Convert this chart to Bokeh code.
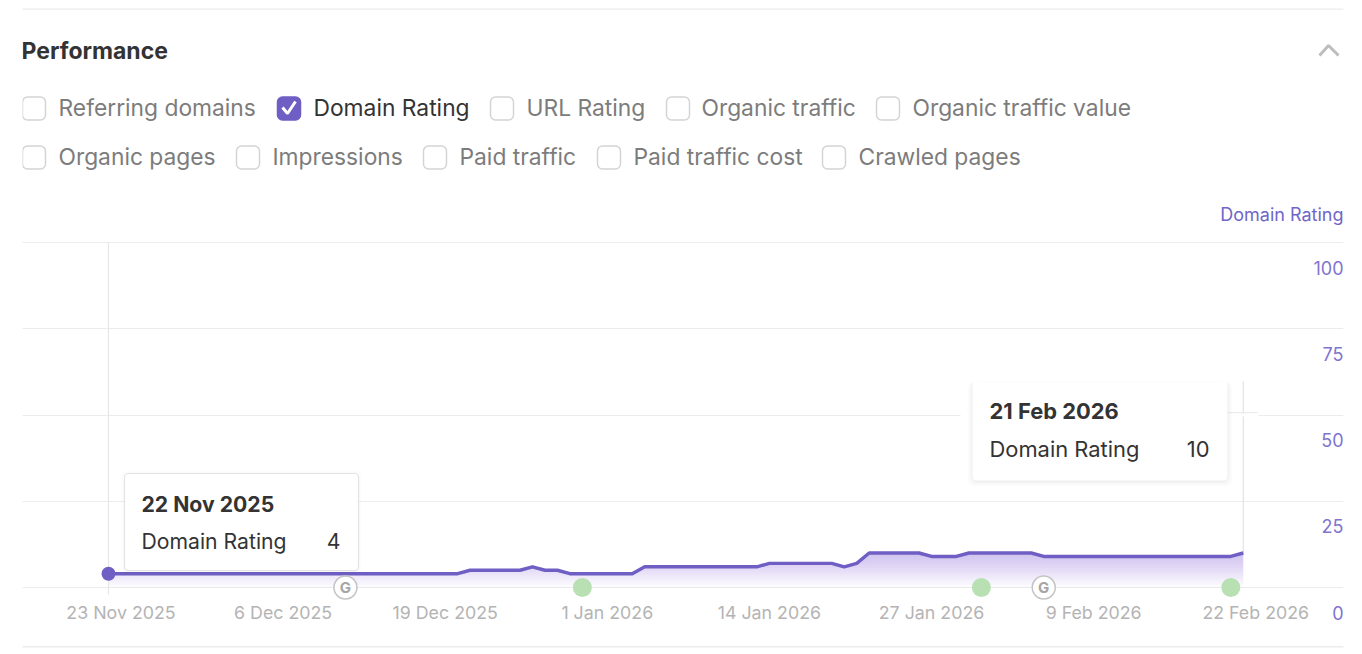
from bokeh.plotting import figure
from bokeh.core.properties import value
from bokeh.models import BoxAnnotation, FixedTicker, Grid, Label, LinearAxis, DatetimeAxis, Range1d
from bokeh.embed import file_html
from bokeh.resources import INLINE
import pandas as pd

# daily Domain Rating, 22 Nov 2025 -> 21 Feb 2026
values = [4, 4, 4, 4, 4, 4, 4, 4, 4, 4, 4, 4, 4, 4, 4, 4, 4, 4, 4, 4, 4, 4, 4, 4, 4, 4, 4, 4, 4,
          5, 5, 5, 5, 5, 6, 5, 5, 4, 4, 4, 4, 4, 4,
          6, 6, 6, 6, 6, 6, 6, 6, 6, 6, 7, 7, 7, 7, 7, 7, 6, 7,
          10, 10, 10, 10, 10, 9, 9, 9, 10, 10, 10, 10, 10, 10,
          9, 9, 9, 9, 9, 9, 9, 9, 9, 9, 9, 9, 9, 9, 9, 9, 10]
dates = pd.date_range("2025-11-22", periods=len(values))

tick_labels = ["23 Nov 2025", "6 Dec 2025", "19 Dec 2025", "1 Jan 2026", "14 Jan 2026",
               "27 Jan 2026", "9 Feb 2026", "22 Feb 2026"]
y_ticks = [0, 25, 50, 75, 100]
green_dates = ["2025-12-30", "2026-01-31", "2026-02-20"]
google_dates = ["2025-12-11", "2026-02-05"]
row1 = [(22, 59, "Referring domains"), (277, 314, "Domain Rating"), (490, 527, "URL Rating"),
        (666, 702, "Organic traffic"), (876, 913, "Organic traffic value")]
row2 = [(22, 59, "Organic pages"), (236, 273, "Impressions"), (423, 460, "Paid traffic"),
        (597, 634, "Paid traffic cost"), (822, 859, "Crawled pages")]

PURPLE = "#6f5fc4"
GRID = "#ececec"
FONT = "Inter"
W, H = 1362, 654
DAY = 86400000
PX_DAY = 12.47
PX_VAL = 3.45
T0 = dates[0].timestamp() * 1000


def fx(px):
    return T0 + (px - 108) / PX_DAY * DAY


def fy(px):
    return (587 - px) / PX_VAL


def ms(d):
    return pd.Timestamp(d).timestamp() * 1000


p = figure(width=W, height=H, output_backend="svg", toolbar_location=None,
           x_axis_type="datetime", x_axis_location=None, y_axis_location=None,
           x_range=Range1d(fx(22), fx(1343)), y_range=Range1d(fy(H), fy(0)),
           min_border_left=22, min_border_right=W - 1343, min_border_top=0, min_border_bottom=0)
p.outline_line_color = None
p.center = []

# y labels sit about 25px under their gridlines, so they get a shifted range
shift = 25 / PX_VAL
p.extra_y_ranges = {"labels": Range1d(fy(H) + shift, fy(0) + shift)}
yax = LinearAxis(y_range_name="labels", ticker=FixedTicker(ticks=y_ticks), fixed_location=fx(1343))
yax.axis_line_color = None
yax.major_tick_line_color = None
yax.minor_tick_line_color = None
yax.major_label_standoff = -6
yax.major_label_text_color = "#7f74d0"
yax.major_label_text_font = FONT
yax.major_label_text_font_size = "18px"
p.add_layout(yax, "left")

tick_ms = [ms(pd.to_datetime(t, format="%d %b %Y")) for t in tick_labels]
xax = DatetimeAxis(ticker=FixedTicker(ticks=tick_ms), fixed_location=0)
xax.major_label_overrides = dict(zip(tick_ms, tick_labels))
xax.axis_line_color = None
xax.major_tick_line_color = None
xax.minor_tick_line_color = None
xax.major_label_standoff = 8
xax.major_label_text_color = "#b4b4b4"
xax.major_label_text_font = FONT
xax.major_label_text_font_size = "17.8px"
p.add_layout(xax, "below")

p.add_layout(Grid(dimension=1, ticker=FixedTicker(ticks=y_ticks), grid_line_color=GRID, grid_line_width=1.2))

# gradient under the line, built from stacked translucent layers
for i in range(16):
    lvl = i * 10 / 16
    low = [min(v, lvl) for v in values]
    p.varea(dates, low, values, fill_color=PURPLE, fill_alpha=0.022)

# crosshairs
p.segment([dates[0]], [fy(242)], [dates[0]], [fy(594)], line_color="#e6e6e6", line_width=1.2)
p.segment([dates[-1]], [fy(381)], [dates[-1]], [values[-1]], line_color="#e3e3e3", line_width=1.2)

p.line(dates, values, line_color=PURPLE, line_width=3.4, line_join="round")
p.scatter([dates[0]], [values[0]], size=14, fill_color=PURPLE, line_color=None)

p.scatter(pd.to_datetime(green_dates), [0] * len(green_dates), size=19, fill_color="#b8e0b3", line_color=None)
p.scatter(pd.to_datetime(google_dates), [0] * len(google_dates), size=23, fill_color="white",
          line_color="#c4c4c4", line_width=1.5)
p.text(pd.to_datetime(google_dates), [0] * len(google_dates), text=["G"] * len(google_dates),
       text_align="center", text_baseline="middle", text_color="#a6a6a6", text_font=value(FONT),
       text_font_size="15px", text_font_style="bold")

# chevron and tick icon
p.line([fx(1319), fx(1328), fx(1338)], [fy(55), fy(45), fy(55)], line_color="#bdbdbd", line_width=3)
p.line([fx(282), fx(287), fx(295)], [fy(107), fy(113), fy(101)], line_color="white", line_width=3)


def box(x0, y0, x1, y1, fill="white", line=None, alpha=1.0, radius=5, level="overlay", width=1.2):
    b = BoxAnnotation(left=x0 - 22, right=x1 - 22, top=H - y0, bottom=H - y1,
                      left_units="screen", right_units="screen", top_units="screen", bottom_units="screen",
                      fill_color=fill, fill_alpha=alpha, line_color=line, line_alpha=1.0, line_width=width,
                      border_radius=radius, level=level, editable=False)
    p.add_layout(b)
    return b


def text(x, y, s, size, color, align="left", style="normal", level="overlay"):
    p.add_layout(Label(x=x - 23, y=H - y + 1, x_units="screen", y_units="screen", text=s,
                       text_font=FONT, text_font_size=f"{size}px", text_color=color, text_align=align,
                       text_baseline="middle", text_font_style=style, level=level))


# page frame lines reach past the plot frame
box(0, 8, W, 9.2, fill="#ececec", radius=0)
box(0, 645.5, W, 647, fill="#ececec", radius=0)

text(22, 51, "Performance", 23, "#333333", style="bold")
text(1344, 215, "Domain Rating", 18, "#7066c8", align="right")

for y, row in ((108, row1), (157, row2)):
    for bx, tx, name in row:
        on = name == "Domain Rating"
        box(bx, y - 11.5, bx + 23, y + 11.5, fill=PURPLE if on else "white",
            line=PURPLE if on else "#d4d4d4", level="underlay", width=1.5)
        text(tx, y, name, 22.8, "#333333" if on else "#7c7c7c")

# left tooltip
for grow, a in ((3, 0.012), (1, 0.02)):
    box(124 - grow, 473 - grow, 358 + grow, 570 + grow + 1, fill="black", alpha=a, radius=6)
box(124, 473, 358, 570, line="#e4e4e4", radius=4)
text(142, 504, dates[0].strftime("%-d %b %Y"), 21.2, "#333333", style="bold")
text(142, 541, "Domain Rating", 21.2, "#333333")
text(341, 541, str(values[0]), 21.2, "#333333", align="right")

# right tooltip, its top is cut by the screenshot
box(960, 413, 972, 416, radius=0)
box(1227, 413, 1258, 416, radius=0)
box(1227, 411.5, 1257, 412.7, fill=GRID, radius=0)
for grow, a in ((5, 0.012), (3, 0.02), (1, 0.03)):
    box(972 - grow, 381, 1227 + grow, 480 + grow + 1, fill="black", alpha=a, radius=6)
box(972, 381, 1227, 480, radius=(0, 0, 4, 4))
text(990, 411, dates[-1].strftime("%-d %b %Y"), 21.9, "#333333", style="bold")
text(990, 449, "Domain Rating", 21.9, "#333333")
text(1210, 449, str(values[-1]), 21.9, "#333333", align="right")

open("out.html", "w").write(file_html(p, INLINE))
